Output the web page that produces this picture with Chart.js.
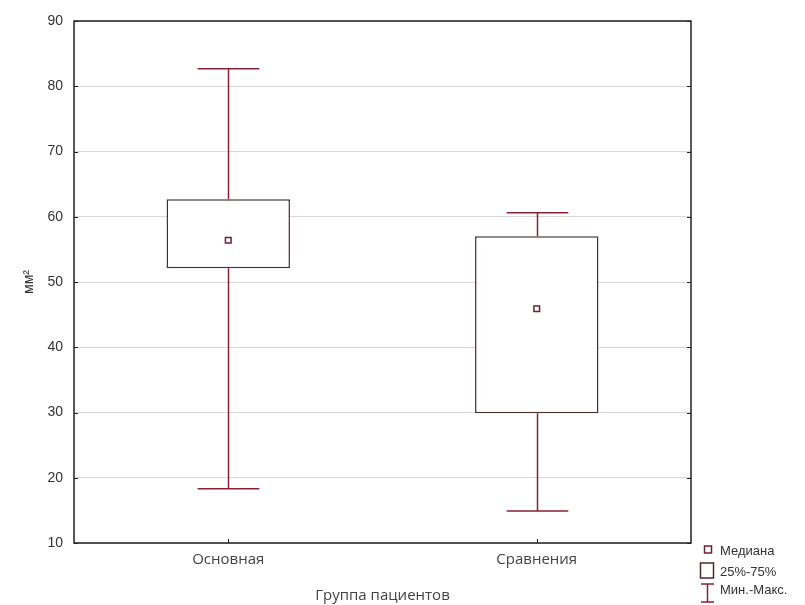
<!DOCTYPE html>
<html>
<head>
<meta charset="utf-8">
<script src="https://cdn.jsdelivr.net/npm/chart.js@4"></script>
<style>
  html, body { margin: 0; padding: 0; background: #fff; }
  #wrap { width: 805px; height: 605px; }
</style>
</head>
<body>
<div id="wrap"><canvas id="chart" width="805" height="605"></canvas></div>
<script>
const groups = ['Основная', 'Сравнения'],
  medians = [56.4, 45.9],
  q1 = [52.1, 29.9],
  q3 = [62.7, 57.0],
  mins = [18.3, 14.9],
  maxs = [82.7, 60.6],
  legendLabels = ['Медиана', '25%-75%', 'Мин.-Макс.'];

const boxColor = '#4a2e2e',
  whiskerColor = '#8a2233',
  medianColor = '#6e2231',
  textColor = '#333';

// whiskers, frame, inner ticks and legend
const boxPlotExtras = {
  id: 'boxPlotExtras',
  beforeDatasetsDraw(chart) {
    const { ctx, scales: { x, y } } = chart;
    const bars = chart.getDatasetMeta(0).data;
    ctx.save();
    ctx.strokeStyle = whiskerColor;
    ctx.lineWidth = 1.5;
    groups.forEach((g, i) => {
      const cx = Math.round(x.getPixelForValue(i)) + 0.5;
      const half = bars[i].width * 0.25;
      const yMin = y.getPixelForValue(mins[i]),
        yMax = y.getPixelForValue(maxs[i]),
        yQ1 = y.getPixelForValue(q1[i]),
        yQ3 = y.getPixelForValue(q3[i]);
      ctx.beginPath();
      ctx.moveTo(cx, yQ1); ctx.lineTo(cx, yMin);
      ctx.moveTo(cx - half, yMin); ctx.lineTo(cx + half, yMin);
      ctx.moveTo(cx, yQ3); ctx.lineTo(cx, yMax);
      ctx.moveTo(cx - half, yMax); ctx.lineTo(cx + half, yMax);
      ctx.stroke();
    });
    ctx.restore();
  },
  afterDraw(chart) {
    const { ctx, chartArea: a, scales: { x, y } } = chart;
    ctx.save();
    ctx.strokeStyle = '#222';
    ctx.lineWidth = 1.5;
    ctx.strokeRect(a.left, a.top, a.right - a.left, a.bottom - a.top);
    ctx.lineWidth = 1;
    ctx.beginPath();
    y.ticks.forEach((t) => {
      const py = Math.round(y.getPixelForValue(t.value)) + 0.5;
      ctx.moveTo(a.left, py); ctx.lineTo(a.left + 4, py);
      ctx.moveTo(a.right, py); ctx.lineTo(a.right - 4, py);
    });
    groups.forEach((g, i) => {
      const px = Math.round(x.getPixelForValue(i)) + 0.5;
      ctx.moveTo(px, a.bottom); ctx.lineTo(px, a.bottom - 4);
    });
    ctx.stroke();

    // legend
    const lx = 704;
    ctx.font = '13px "Liberation Sans", Arial, sans-serif';
    ctx.fillStyle = textColor;
    ctx.textBaseline = 'middle';
    ctx.textAlign = 'left';
    ctx.lineWidth = 1.5;
    ctx.strokeStyle = medianColor;
    ctx.strokeRect(lx + 0.5, 546, 7, 7);
    ctx.fillText(legendLabels[0], 720, 551);
    ctx.strokeStyle = boxColor;
    ctx.strokeRect(lx - 3.5, 563, 13, 15);
    ctx.fillText(legendLabels[1], 720, 572);
    ctx.strokeStyle = whiskerColor;
    ctx.beginPath();
    ctx.moveTo(lx - 3, 584); ctx.lineTo(lx + 10, 584);
    ctx.moveTo(lx + 3.5, 584); ctx.lineTo(lx + 3.5, 602);
    ctx.moveTo(lx - 3, 602); ctx.lineTo(lx + 10, 602);
    ctx.stroke();
    ctx.fillText(legendLabels[2], 720, 590);
    ctx.restore();
  }
};

new Chart(document.getElementById('chart'), {
  data: {
    labels: groups,
    datasets: [{
      type: 'bar',
      label: '25%-75%',
      data: groups.map((g, i) => [q1[i], q3[i]]),
      backgroundColor: '#fff',
      borderColor: boxColor,
      borderWidth: 1.5,
      borderSkipped: false,
      categoryPercentage: 1,
      barPercentage: 0.4,
      order: 2
    }, {
      type: 'line',
      label: 'Медиана',
      data: medians,
      showLine: false,
      pointStyle: 'rect',
      pointRadius: 4,
      pointBorderWidth: 1.5,
      pointBackgroundColor: '#fff',
      pointBorderColor: medianColor,
      order: 1
    }]
  },
  plugins: [boxPlotExtras],
  options: {
    responsive: false,
    animation: false,
    layout: { padding: { top: 21, right: 114, bottom: 0, left: 0 } },
    plugins: { legend: { display: false }, tooltip: { enabled: false } },
    scales: {
      x: {
        type: 'category',
        offset: true,
        grid: { display: false, drawTicks: false },
        border: { display: false },
        ticks: { color: '#444', padding: 8, font: { family: '"Open Sans", sans-serif', size: 15 } },
        title: {
          display: true,
          text: 'Группа пациентов',
          color: '#444',
          font: { family: '"Open Sans", sans-serif', size: 15 },
          padding: { top: 0, bottom: 0 }
        },
        afterFit(scale) { scale.height = 62; }
      },
      y: {
        min: 10,
        max: 90,
        ticks: { stepSize: 10, color: textColor, padding: 11, font: { family: '"Liberation Sans", Arial, sans-serif', size: 14 } },
        grid: { color: '#d9d9d9', drawTicks: false },
        border: { display: false },
        title: {
          display: true,
          text: 'мм²',
          color: textColor,
          font: { family: '"Liberation Sans", Arial, sans-serif', size: 14 },
          padding: { top: 21, bottom: 0 }
        },
        afterFit(scale) { scale.width = 74; }
      }
    }
  }
});
</script>
</body>
</html>
